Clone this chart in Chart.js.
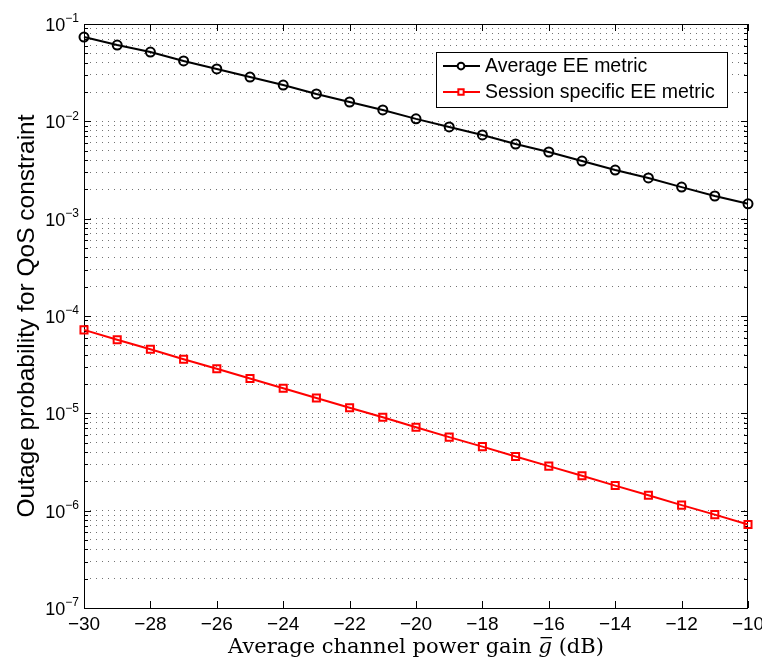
<!DOCTYPE html>
<html>
<head>
<meta charset="utf-8">
<script src="https://cdn.jsdelivr.net/npm/chart.js@4/dist/chart.umd.min.js"></script>
<style>
  html, body { margin: 0; padding: 0; background: #fff; }
  #wrap { width: 762px; height: 662px; }
</style>
</head>
<body>
<div id="wrap"><canvas id="chart" width="762" height="662"></canvas></div>
<script>
// average channel power gain (dB)
const gainDb = [-30, -29, -28, -27, -26, -25, -24, -23, -22, -21, -20,
                -19, -18, -17, -16, -15, -14, -13, -12, -11, -10];

// outage probability, average EE metric
const avgEE = [7.35e-2, 6.08e-2, 5.15e-2, 4.17e-2, 3.45e-2, 2.85e-2, 2.36e-2,
               1.91e-2, 1.58e-2, 1.31e-2, 1.06e-2, 8.75e-3, 7.24e-3, 5.85e-3,
               4.84e-3, 3.91e-3, 3.16e-3, 2.62e-3, 2.11e-3, 1.71e-3, 1.42e-3];

// outage probability, session specific EE metric
const sessionEE = [7.2e-5, 5.7e-5, 4.55e-5, 3.6e-5, 2.87e-5, 2.28e-5, 1.81e-5,
                   1.44e-5, 1.14e-5, 9.1e-6, 7.2e-6, 5.7e-6, 4.55e-6, 3.6e-6,
                   2.87e-6, 2.28e-6, 1.81e-6, 1.44e-6, 1.14e-6, 9.1e-7, 7.2e-7];

const seriesNames = ['Average EE metric', 'Session specific EE metric'];
const xTicks = [-30, -28, -26, -24, -22, -20, -18, -16, -14, -12, -10];
const yDecades = [-7, -6, -5, -4, -3, -2, -1];

const SANS = '"Liberation Sans", Arial, sans-serif';
const SERIF = '"DejaVu Serif", "Liberation Serif", serif';
const minus = s => String(s).replace('-', '\u2212');

// every 1..9 x 10^e step, used for the dotted grid and minor ticks
function logSteps() {
  const out = [];
  for (let e = yDecades[0]; e < yDecades[yDecades.length - 1]; e++) {
    for (let m = 1; m <= 9; m++) out.push(Number((m * Math.pow(10, e)).toPrecision(3)));
  }
  out.push(Math.pow(10, yDecades[yDecades.length - 1]));
  return out;
}

// frame, inward ticks, superscript labels, titles, legend
const decor = {
  id: 'decor',
  beforeDatasetsDraw(chart) {
    const {ctx, chartArea: a, scales: {x, y}} = chart;
    ctx.save();
    ctx.strokeStyle = '#000';
    ctx.lineWidth = 1;
    ctx.strokeRect(a.left + 0.5, a.top + 0.5, a.right - a.left - 1, a.bottom - a.top);
    ctx.beginPath();
    xTicks.forEach(v => {
      const px = Math.round(x.getPixelForValue(v)) + 0.5;
      ctx.moveTo(px, a.bottom); ctx.lineTo(px, a.bottom - 7);
      ctx.moveTo(px, a.top); ctx.lineTo(px, a.top + 7);
    });
    logSteps().forEach(v => {
      const major = Math.abs(Math.log10(v) - Math.round(Math.log10(v))) < 1e-9;
      const len = major ? 7 : 4;
      const py = Math.round(y.getPixelForValue(v)) + 0.5;
      ctx.moveTo(a.left, py); ctx.lineTo(a.left + len, py);
      ctx.moveTo(a.right, py); ctx.lineTo(a.right - len, py);
    });
    ctx.stroke();
    ctx.restore();
  },
  afterDraw(chart) {
    const {ctx, chartArea: a, scales: {y}} = chart;
    ctx.save();
    ctx.fillStyle = '#000';
    ctx.textBaseline = 'middle';

    // y tick labels 10^e
    yDecades.forEach(e => {
      const py = y.getPixelForValue(Math.pow(10, e));
      const right = a.left - 5;
      ctx.font = '12px ' + SANS;
      ctx.textAlign = 'right';
      const sup = minus(e);
      ctx.fillText(sup, right, py - 5);
      const w = ctx.measureText(sup).width;
      ctx.font = '18px ' + SANS;
      ctx.fillText('10', right - w, py + 2);
    });

    // y title
    ctx.save();
    ctx.translate(27, (a.top + a.bottom) / 2);
    ctx.rotate(-Math.PI / 2);
    ctx.textAlign = 'center';
    ctx.font = '24.5px ' + SANS;
    ctx.fillText('Outage probability for QoS constraint', 0, 0);
    ctx.restore();

    // x title with barred italic g
    const parts = [
      {t: 'Average channel power gain ', f: '21px ' + SERIF},
      {t: 'g', f: 'italic 21px ' + SERIF, bar: true},
      {t: ' (dB)', f: '21px ' + SERIF}
    ];
    let total = 0;
    parts.forEach(p => { ctx.font = p.f; p.w = ctx.measureText(p.t).width; total += p.w; });
    let cx = (a.left + a.right) / 2 - total / 2;
    const base = 653;
    ctx.textAlign = 'left';
    ctx.textBaseline = 'alphabetic';
    parts.forEach(p => {
      ctx.font = p.f;
      ctx.fillText(p.t, cx, base);
      if (p.bar) {
        ctx.fillRect(cx + 2, base - 16, p.w - 2, 1.3);
      }
      cx += p.w;
    });

    // legend box
    const bx = 436, by = 52, bw = 291, bh = 55;
    ctx.fillStyle = '#fff';
    ctx.fillRect(bx, by, bw, bh);
    ctx.strokeStyle = '#000';
    ctx.lineWidth = 1;
    ctx.strokeRect(bx + 0.5, by + 0.5, bw, bh);
    const rows = [66, 92];
    chart.data.datasets.forEach((ds, i) => {
      const ry = rows[i];
      ctx.strokeStyle = ds.borderColor;
      ctx.lineWidth = 2;
      ctx.beginPath();
      ctx.moveTo(443, ry); ctx.lineTo(480, ry);
      ctx.stroke();
      ctx.fillStyle = '#fff';
      Chart.helpers.drawPoint(ctx, {
        pointStyle: ds.pointStyle, radius: ds.pointRadius * 0.75,
        borderWidth: 2, rotation: 0
      }, 461, ry);
      ctx.fillStyle = '#000';
      ctx.font = '19.5px ' + SANS;
      ctx.textBaseline = 'middle';
      ctx.fillText(ds.label, 485, ry + 1);
    });
    ctx.restore();
  }
};

new Chart(document.getElementById('chart'), {
  type: 'line',
  data: {
    labels: gainDb,
    datasets: [
      {
        label: seriesNames[0],
        data: gainDb.map((g, i) => ({x: g, y: avgEE[i]})),
        borderColor: '#000', borderWidth: 2,
        pointStyle: 'circle', pointRadius: 4.5,
        pointBorderColor: '#000', pointBorderWidth: 2,
        pointBackgroundColor: 'rgba(0,0,0,0)',
        clip: false
      },
      {
        label: seriesNames[1],
        data: gainDb.map((g, i) => ({x: g, y: sessionEE[i]})),
        borderColor: '#ff0000', borderWidth: 2,
        pointStyle: 'rect', pointRadius: 5,
        pointBorderColor: '#ff0000', pointBorderWidth: 2,
        pointBackgroundColor: 'rgba(255,255,255,0)',
        clip: false
      }
    ]
  },
  options: {
    responsive: false,
    animation: false,
    events: [],
    layout: {padding: {top: 24, right: 14, left: 0, bottom: 0}},
    plugins: {legend: {display: false}, tooltip: {enabled: false}},
    scales: {
      x: {
        type: 'linear', min: -30, max: -10,
        afterFit(s) { s.height = 54; s.paddingLeft = 0; s.paddingRight = 0; },
        afterBuildTicks(s) { s.ticks = xTicks.map(v => ({value: v})); },
        grid: {display: false, drawTicks: false},
        border: {display: false},
        ticks: {
          autoSkip: false, maxRotation: 0, padding: 5, color: '#000',
          font: {family: SANS, size: 19},
          callback: v => minus(v)
        }
      },
      y: {
        type: 'logarithmic', min: 1e-7, max: 1e-1,
        afterFit(s) { s.width = 84; s.paddingTop = 0; s.paddingBottom = 0; },
        afterBuildTicks(s) { s.ticks = logSteps().map(v => ({value: v})); },
        grid: {color: 'rgba(0,0,0,0.55)', lineWidth: 1, drawTicks: false},
        border: {display: false, dash: [1, 5]},
        ticks: {display: false}
      }
    }
  },
  plugins: [decor]
});
</script>
</body>
</html>
